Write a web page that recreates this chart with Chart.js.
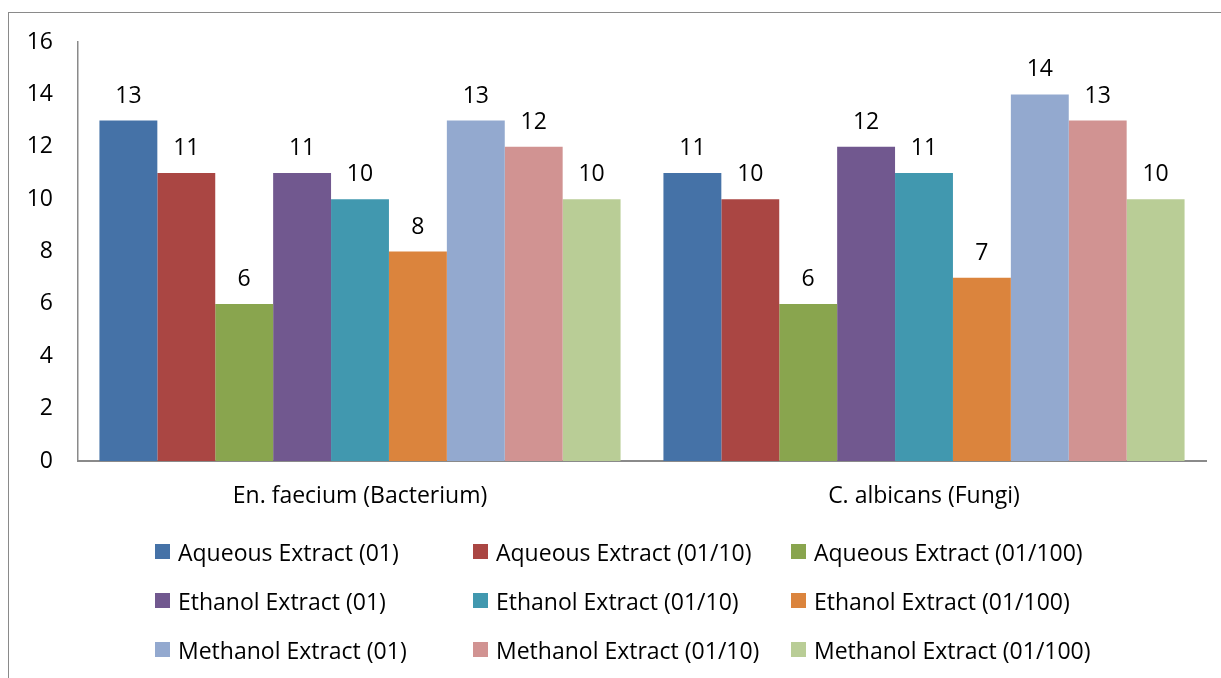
<!DOCTYPE html>
<html>
<head>
<meta charset="utf-8">
<script src="https://cdn.jsdelivr.net/npm/chart.js@4/dist/chart.umd.min.js"></script>
<style>
  html, body { margin: 0; padding: 0; background: #fff; }
  #wrap { position: relative; width: 1221px; height: 678px; overflow: hidden; }
  #frame { position: absolute; left: 8px; top: 12px; width: 1300px; height: 700px;
           border-left: 1px solid #8a8a8a; border-top: 1px solid #8a8a8a; }
  #c { position: absolute; left: 0; top: 0; }
  #legend { position: absolute; left: 155px; top: 527px; display: grid;
            grid-template-columns: 318px 318px 340px; grid-auto-rows: 49px;
            font-family: "Open Sans", Lato, sans-serif; font-size: 23px; color: #000; }
  .item { display: flex; align-items: center; white-space: nowrap; }
  .box { width: 15px; height: 15px; margin-right: 8px; flex: none; }
</style>
</head>
<body>
<div id="wrap">
  <div id="frame"></div>
  <canvas id="c" width="1221" height="678"></canvas>
  <div id="legend"></div>
</div>
<script>
const categories = ['En. faecium (Bacterium)', 'C. albicans (Fungi)'];
const seriesNames = [
  'Aqueous Extract (01)', 'Aqueous Extract (01/10)', 'Aqueous Extract (01/100)',
  'Ethanol Extract (01)', 'Ethanol Extract (01/10)', 'Ethanol Extract (01/100)',
  'Methanol Extract (01)', 'Methanol Extract (01/10)', 'Methanol Extract (01/100)'
];
const aqueous01 = [13, 11];
const aqueous0110 = [11, 10];
const aqueous01100 = [6, 6];
const ethanol01 = [11, 12];
const ethanol0110 = [10, 11];
const ethanol01100 = [8, 7];
const methanol01 = [13, 14];
const methanol0110 = [12, 13];
const methanol01100 = [10, 10];
const yTicks = [0, 2, 4, 6, 8, 10, 12, 14, 16];

const seriesValues = [aqueous01, aqueous0110, aqueous01100, ethanol01, ethanol0110, ethanol01100, methanol01, methanol0110, methanol01100];
const colors = ['#4572A7', '#AA4643', '#89A54E', '#71588F', '#4198AF', '#DB843D', '#93A9CF', '#D19392', '#B9CD96'];
const FONT = '"Open Sans", Lato, sans-serif';

const valueLabels = {
  id: 'valueLabels',
  afterDatasetsDraw(chart) {
    const ctx = chart.ctx;
    ctx.save();
    ctx.font = '23px ' + FONT;
    ctx.fillStyle = '#000';
    ctx.textAlign = 'center';
    ctx.textBaseline = 'alphabetic';
    chart.data.datasets.forEach((ds, i) => {
      const meta = chart.getDatasetMeta(i);
      meta.data.forEach((bar, j) => {
        ctx.fillText(String(ds.data[j]), bar.x, bar.y - 18);
      });
    });
    ctx.restore();
  }
};

const chart = new Chart(document.getElementById('c'), {
  type: 'bar',
  data: {
    labels: categories,
    datasets: seriesNames.map((n, i) => ({
      label: n,
      data: seriesValues[i],
      backgroundColor: colors[i],
      borderWidth: 0,
      categoryPercentage: 0.924,
      barPercentage: 1.0
    }))
  },
  options: {
    responsive: false,
    animation: false,
    layout: { padding: { left: 0, top: 42, right: 15, bottom: 0 } },
    plugins: { legend: { display: false }, tooltip: { enabled: false } },
    scales: {
      x: {
        grid: { display: false, drawTicks: false },
        border: { display: true, color: '#8a8a8a', width: 2 },
        ticks: { font: { family: FONT, size: 23 }, color: '#000', padding: 22 },
        afterFit(scale) { scale.height = 217; }
      },
      y: {
        min: 0, max: 16,
        afterBuildTicks(scale) { scale.ticks = yTicks.map(v => ({ value: v })); },
        grid: { display: false, drawTicks: false },
        border: { display: true, color: '#8a8a8a', width: 1.5 },
        ticks: { font: { family: FONT, size: 23 }, color: '#000', padding: 25 },
        afterFit(scale) { scale.width = 78; }
      }
    }
  },
  plugins: [valueLabels]
});

const legend = document.getElementById('legend');
chart.data.datasets.forEach(ds => {
  const item = document.createElement('div');
  item.className = 'item';
  const box = document.createElement('span');
  box.className = 'box';
  box.style.background = ds.backgroundColor;
  const txt = document.createElement('span');
  txt.textContent = ds.label;
  item.appendChild(box);
  item.appendChild(txt);
  legend.appendChild(item);
});
</script>
</body>
</html>
